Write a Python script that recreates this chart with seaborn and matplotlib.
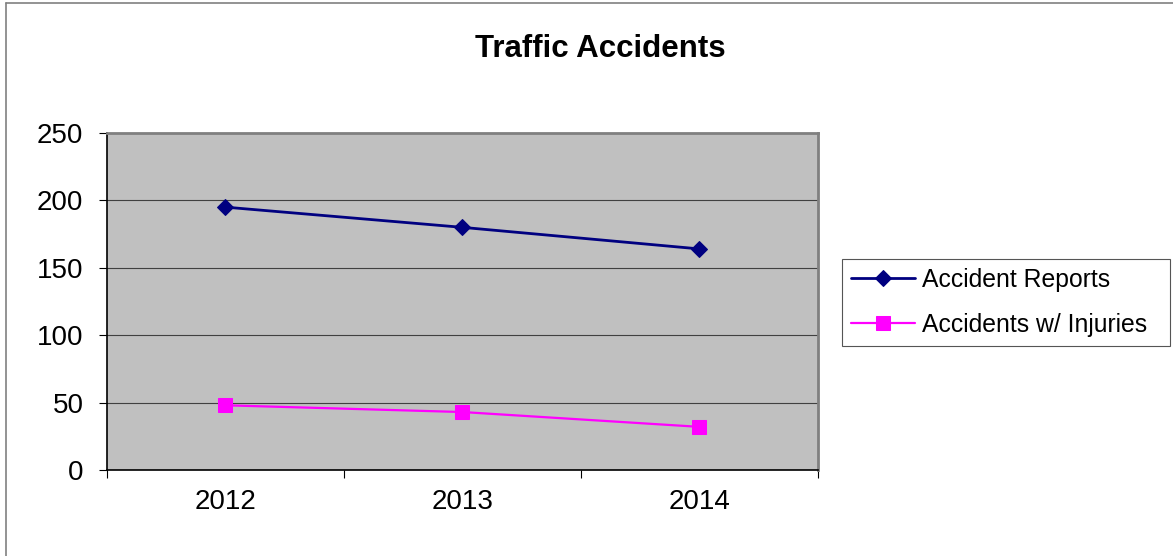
import matplotlib
matplotlib.use("Agg")
import matplotlib.pyplot as plt
from matplotlib.lines import Line2D
from matplotlib.ticker import FixedLocator
import seaborn as sns
import pandas as pd

# chart data
years = [2012, 2013, 2014]
accident_reports = [195, 180, 164]
accidents_injuries = [48, 43, 32]
y_ticks = [0, 50, 100, 150, 200, 250]
series_names = ["Accident Reports", "Accidents w/ Injuries"]

df = pd.DataFrame({
    "year": years * 2,
    "value": accident_reports + accidents_injuries,
    "series": [series_names[0]] * 3 + [series_names[1]] * 3,
})

sns.set_theme(style="ticks")
plt.rcParams["font.family"] = ["Liberation Sans", "DejaVu Sans"]
plt.rcParams["text.color"] = "black"

fig = plt.figure(figsize=(11.73, 5.56), dpi=100)
ax = fig.add_axes([107 / 1173, 86 / 556, 711 / 1173, 337 / 556])
ax.set_facecolor("#c0c0c0")

sns.lineplot(data=df[df.series == series_names[0]], x="year", y="value",
             color="#000080", marker="D", markersize=8.5, linewidth=2,
             markeredgecolor="#000080", label=series_names[0], ax=ax)
sns.lineplot(data=df[df.series == series_names[1]], x="year", y="value",
             color="#ff00ff", marker="s", markersize=10, linewidth=1.6,
             markeredgecolor="#ff00ff", label=series_names[1], ax=ax)

ax.set_xlim(years[0] - 0.5, years[-1] + 0.5)
ax.set_ylim(0, 250)
ax.set_xlabel("")
ax.set_ylabel("")

# y axis + gridlines
ax.set_yticks(y_ticks)
ax.yaxis.grid(True, color="#404040", linewidth=0.8)
ax.xaxis.grid(False)
ax.tick_params(axis="y", direction="out", length=6, width=0.8, pad=11,
               labelsize=20, color="black", labelcolor="black")

# x axis: labels centred on categories, tick marks between them
ax.set_xticks(years)
ax.set_xticklabels([str(y) for y in years])
ax.tick_params(axis="x", which="major", length=0, pad=14, labelsize=20,
               labelcolor="black")
ax.xaxis.set_minor_locator(FixedLocator([y - 0.5 for y in years] + [years[-1] + 0.5]))
ax.tick_params(axis="x", which="minor", direction="out", length=6, width=0.8,
               color="black")

for side in ["left", "bottom"]:
    ax.spines[side].set_color("black")
    ax.spines[side].set_linewidth(1.2)
for side in ["top", "right"]:
    ax.spines[side].set_visible(True)
    ax.spines[side].set_color("#808080")
    ax.spines[side].set_linewidth(2)

ax.get_legend().remove()
handles, labels = ax.get_legend_handles_labels()
leg = fig.legend(handles, labels, loc="upper left",
                 bbox_to_anchor=(842 / 1173, 297 / 556, 328 / 1173, 0.0),
                 mode="expand", fontsize=17.8, frameon=True, fancybox=False,
                 framealpha=1, edgecolor="#555555", borderpad=0.36,
                 labelspacing=0.85, handlelength=2.6, handletextpad=0.28,
                 borderaxespad=0)
leg.get_frame().set_linewidth(0.8)
for t in leg.get_texts():
    t.set_color("black")

fig.text(600 / 1173, 499 / 556, "Traffic Accidents", ha="center", va="baseline",
         fontsize=22.5, fontweight="bold", color="black")

# outer chart border (only top and left visible in the reference crop)
fig.add_artist(Line2D([5.5 / 1173, 1.0], [553.5 / 556, 553.5 / 556],
                      transform=fig.transFigure, color="#808080", linewidth=1.2))
fig.add_artist(Line2D([5.5 / 1173, 5.5 / 1173], [0.0, 553.5 / 556],
                      transform=fig.transFigure, color="#808080", linewidth=1.2))

fig.savefig("out.png", dpi=100, facecolor="white")
